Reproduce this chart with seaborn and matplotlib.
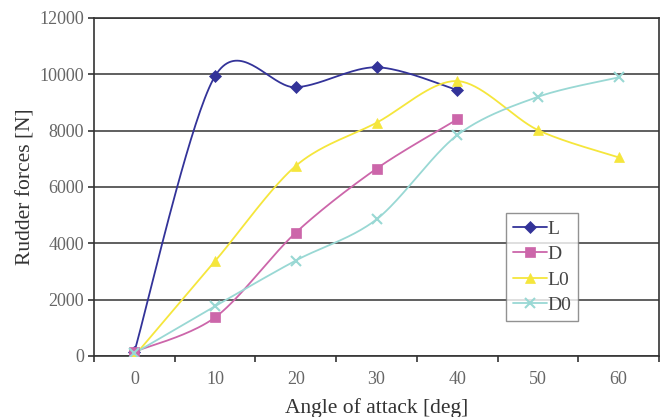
import numpy as np
import pandas as pd
import matplotlib
matplotlib.use('Agg')
import matplotlib.pyplot as plt
import seaborn as sns

# angle of attack [deg]
angle_short = [0, 10, 20, 30, 40]
angle_long = [0, 10, 20, 30, 40, 50, 60]

# rudder forces [N]
L = [150, 9940, 9540, 10250, 9440]
D = [150, 1370, 4380, 6650, 8400]
L0 = [0, 3370, 6750, 8280, 9760, 8020, 7050]
D0 = [100, 1770, 3390, 4850, 7840, 9200, 9890]

series = {
    'L': (angle_short, L, '#333399', 'D', 6.5),
    'D': (angle_short, D, '#CC66AA', 's', 7),
    'L0': (angle_long, L0, '#F5E63C', '^', 7.5),
    'D0': (angle_long, D0, '#99D8D4', 'x', 6.5),
}


def smooth(xs, ys, n=40, k=1 / 6.5):
    """Excel-like smoothed line (Catmull-Rom as cubic Bezier)."""
    p = np.column_stack([xs, ys]).astype(float)
    p = np.vstack([p[0], p, p[-1]])
    out = []
    for i in range(1, len(p) - 2):
        p0, p3 = p[i], p[i + 1]
        c1 = p0 + (p[i + 1] - p[i - 1]) * k
        c2 = p3 - (p[i + 2] - p[i]) * k
        t = np.linspace(0, 1, n)[:, None]
        seg = ((1 - t) ** 3) * p0 + 3 * (1 - t) ** 2 * t * c1 + 3 * (1 - t) * t ** 2 * c2 + t ** 3 * p3
        out.append(seg if i == 1 else seg[1:])
    out = np.vstack(out)
    return out[:, 0], out[:, 1]


sns.set_style('white')
plt.rcParams['font.family'] = ['Liberation Serif', 'DejaVu Serif']

fig = plt.figure(figsize=(6.65, 4.17), dpi=100)
ax = fig.add_axes([0.1414, 0.1463, 0.8496, 0.8106])

handles = []
for name, (xs, ys, color, marker, ms) in series.items():
    sx, sy = smooth(xs, ys)
    curve = pd.DataFrame({'x': sx, 'y': sy})
    sns.lineplot(data=curve, x='x', y='y', ax=ax, color=color, lw=1.3,
                 sort=False, estimator=None, zorder=3)
    mew = 1.5 if marker == 'x' else 0.5
    ax.plot(xs, ys, ls='none', marker=marker, ms=ms, color=color,
            mec=color, mew=mew, zorder=4)
    h, = ax.plot([], [], color=color, lw=1.3, marker=marker, ms=ms,
                 mec=color, mew=mew, label=name)
    handles.append(h)

ax.set_xlim(-5, 65)
ax.set_ylim(0, 12000)
ax.set_xticks(angle_long)
ax.set_xticks(np.arange(-5, 70, 10), minor=True)
ax.set_yticks(np.arange(0, 12001, 2000))
ax.tick_params(axis='x', which='major', length=0, pad=11, labelsize=13, labelcolor='#666666')
ax.tick_params(axis='x', which='minor', length=4, width=1.2, direction='out', color='#333333', bottom=True)
ax.tick_params(axis='y', length=4, width=1.2, direction='out', color='#333333', left=True,
               pad=3, labelsize=13, labelcolor='#666666')
ax.yaxis.grid(True, color='#444444', lw=1.2)
ax.set_axisbelow(True)
for s in ax.spines.values():
    s.set_color('#333333')
    s.set_linewidth(1.2)

ax.set_xlabel('Angle of attack [deg]', fontsize=15.5, color='#333333', labelpad=7)
ax.set_ylabel('Rudder forces [N]', fontsize=15.5, color='#333333', labelpad=3)

leg = ax.legend(handles=handles, loc='lower left', bbox_to_anchor=(0.729, 0.104),
                fontsize=14, frameon=True, fancybox=False, handlelength=1.75,
                handletextpad=0.05, borderpad=0.35, labelspacing=0.4,
                borderaxespad=0)
leg.get_frame().set_edgecolor('#777777')
leg.get_frame().set_linewidth(1.0)
for t in leg.get_texts():
    t.set_color('#444444')

fig.savefig('out.png', dpi=100)
